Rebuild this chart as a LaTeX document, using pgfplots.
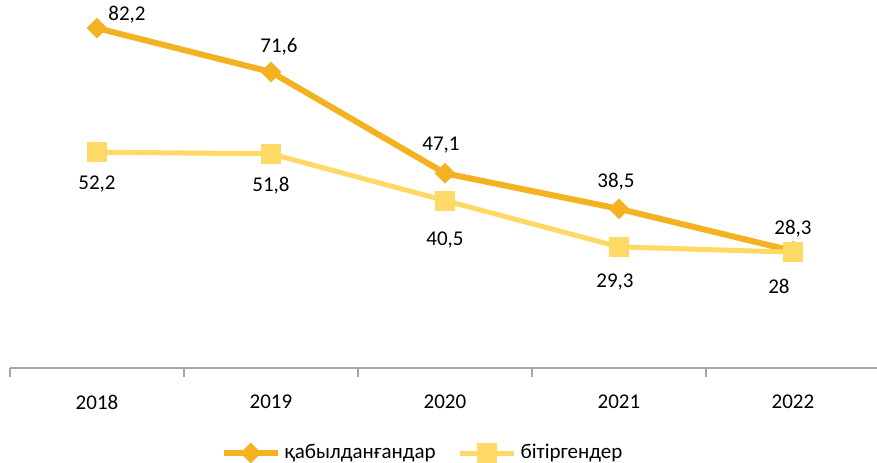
\documentclass[border=0pt]{standalone}
\usepackage{fontspec}
\setmainfont{Carlito}
\usepackage{pgfplots}
\usepackage{pgfplotstable}
\pgfplotsset{compat=1.18}
\definecolor{accorange}{HTML}{F4B120}
\definecolor{gradyellow}{HTML}{FFD966}
\definecolor{axgray}{HTML}{A6A6A6}
\newcommand{\lblfont}{\fontsize{10.5}{12}\selectfont}

% x y label dx dy (label offsets in pt)
\pgfplotstableread{
x y lab dx dy
0 82.2 82,2 15 6.5
1 71.6 71,6 4 12.5
2 47.1 47,1 -2 14
3 38.5 38,5 -1.5 13.5
4 28.3 28,3 0 11
}\accepted
\pgfplotstableread{
x y lab dx dy
0 52.2 52,2 0 -16
1 51.8 51,8 0 -16
2 40.5 40,5 0 -19.5
3 29.3 29,3 -2 -17.5
4 28 28 -7 -17
}\graduated

\begin{document}
\begin{tikzpicture}
\begin{axis}[
    at={(0,0)}, anchor=south west,
    scale only axis, width=433.5pt, height=184pt,
    xmin=-0.5, xmax=4.483, ymin=0, ymax=89,
    axis y line=none, axis x line*=bottom,
    x axis line style={axgray, line width=0.6pt},
    xtick={0,...,4},
    xticklabels={2018,2019,2020,2021,2022},
    major tick length=0pt,
    minor xtick={-0.5,0.5,1.5,2.5,3.5},
    minor tick length=4.5pt,
    tick align=outside,
    minor tick style={axgray, line width=0.6pt},
    xticklabel style={font=\lblfont, anchor=center, yshift=-17pt},
    clip=false,
    point meta=explicit symbolic,
    nodes near coords,
    visualization depends on={\thisrow{dx} \as \dx},
    visualization depends on={\thisrow{dy} \as \dy},
    nodes near coords style={font=\lblfont, text=black, anchor=center, xshift=\dx pt, yshift=\dy pt},
    legend columns=2,
    legend style={draw=none, font=\lblfont, at={(0.477,-0.231)}, anchor=center,
        /tikz/every even column/.append style={column sep=9pt},
        /tikz/every odd column/.append style={inner xsep=1pt}},
    legend image code/.code={
        \draw[mark repeat=2, mark phase=2, #1] plot coordinates {(0pt,0pt) (13.5pt,0pt) (27pt,0pt)};
    },
]
\addplot[accorange, line width=3pt, mark=square*, mark size=3.4pt,
    mark options={rotate=45, line width=0.5pt}]
    table[x=x, y=y, meta=lab] {\accepted};
\addlegendentry{қабылданғандар}
\addplot[gradyellow, line width=2.5pt, mark=square*, mark size=4.75pt,
    mark options={line width=0.5pt}]
    table[x=x, y=y, meta=lab] {\graduated};
\addlegendentry{бітіргендер}
\end{axis}
\pgfresetboundingbox
\path[use as bounding box] (-5pt,-47pt) rectangle (433.5pt,184pt);
\end{tikzpicture}
\end{document}
